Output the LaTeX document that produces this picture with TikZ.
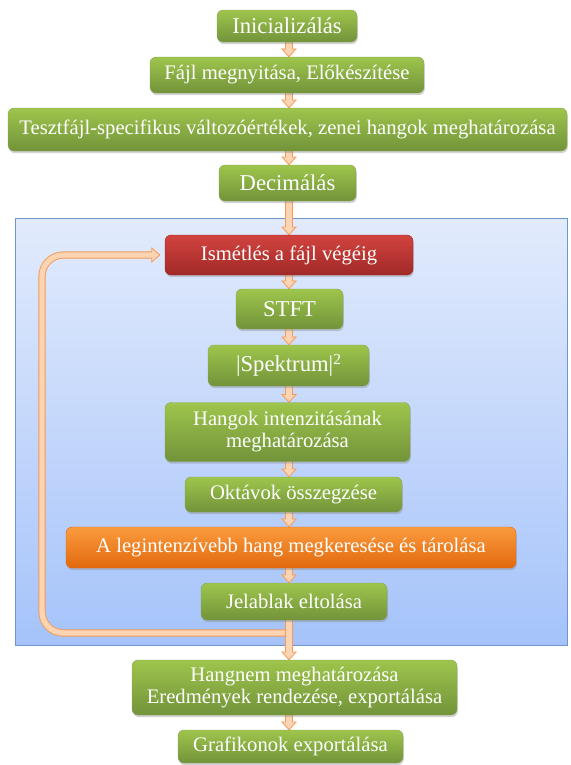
\documentclass[tikz,border=0pt]{standalone}
\usepackage{fontspec}
\setmainfont{Liberation Serif}
\usetikzlibrary{shadows,calc}

\definecolor{grtop}{HTML}{9EC54C}
\definecolor{grbot}{HTML}{72933A}
\definecolor{rdtop}{HTML}{D2433F}
\definecolor{rdbot}{HTML}{A02927}
\definecolor{ortop}{HTML}{FA9B3E}
\definecolor{orbot}{HTML}{E2690D}
\definecolor{bltop}{HTML}{E2EBFC}
\definecolor{blbot}{HTML}{A5C3FA}
\definecolor{blline}{HTML}{6F96CC}
\definecolor{arrfill}{HTML}{FBD4B4}
\definecolor{arrline}{HTML}{F79A55}

\pgfdeclarelayer{panel}
\pgfdeclarelayer{links}
\pgfsetlayers{panel,links,main}

\tikzset{
  box/.style={rounded corners=4.5pt, text=white, align=center, inner sep=0pt,
    top color=grtop, bottom color=grbot, draw=grbot!85!white, line width=0.3pt,
    drop shadow={opacity=0.35, shadow xshift=0.6pt, shadow yshift=-1.6pt}},
  redbox/.style={box, top color=rdtop, bottom color=rdbot, draw=rdbot},
  orangebox/.style={box, top color=ortop, bottom color=orbot, draw=orbot},
  big/.style={font=\fontsize{17pt}{20pt}\selectfont},
  small/.style={font=\fontsize{15.5pt}{16.5pt}\selectfont},
  panelbox/.style={inner sep=0pt, top color=bltop, bottom color=blbot,
    draw=blline, line width=0.6pt,
    drop shadow={opacity=0.3, shadow xshift=1pt, shadow yshift=-1pt}},
  arrowstyle/.style={fill=arrfill, draw=arrline, line width=0.6pt, line join=miter},
}

% block arrow straight down from the bottom of #1 to the top of #2, on the spine
\newcommand\flowarrow[2]{%
  \filldraw[arrowstyle] let \p1=(#1.south), \p2=(#2.north), \p3=(spine) in
    (\x3-2.6pt,\y1+2pt) -- (\x3-2.6pt,\y2+5.8pt) -- (\x3-5.2pt,\y2+5.8pt)
    -- (\x3,\y2) -- (\x3+5.2pt,\y2+5.8pt) -- (\x3+2.6pt,\y2+5.8pt)
    -- (\x3+2.6pt,\y1+2pt) -- cycle;}

\begin{document}
\begin{tikzpicture}[x=0.75pt,y=-0.75pt]
\useasboundingbox (0,0) rectangle (571,765);
\coordinate (spine) at (289,0);

% steps before the loop
\node[box,big, minimum width=105pt, minimum height=24pt] (init) at (287,26) {Inicializálás};
\node[box,small, minimum width=205.5pt, minimum height=27pt] (open) at (287,75) {Fájl megnyitása, Előkészítése};
\node[box,small, minimum width=419.25pt, minimum height=32.25pt] (vars) at (287.5,129.5) {Tesztfájl-specifikus változóértékek, zenei hangok meghatározása};
\node[box,big, minimum width=102.75pt, minimum height=27pt] (dec) at (287.5,183) {Decimálás};

% loop panel
\begin{pgfonlayer}{panel}
\node[panelbox, minimum width=414pt, minimum height=320.25pt] (loop) at (291,431.5) {};
\end{pgfonlayer}

% steps inside the loop
\node[redbox,small, minimum width=186pt, minimum height=30pt] (rep) at (289,255) {Ismétlés a fájl végéig};
\node[box,big, minimum width=80.25pt, minimum height=30pt] (stft) at (289.5,309) {STFT};
\node[box,big, minimum width=120.75pt, minimum height=30.75pt] (spec) at (288.5,365.5) {|Spektrum|\raisebox{0.72ex}{\fontsize{11.5pt}{12pt}\selectfont 2}};
\node[box,small, minimum width=183.75pt, minimum height=44.25pt] (int) at (287.5,432) {Hangok intenzitásának\\meghatározása};
\node[box,small, minimum width=162.75pt, minimum height=26.25pt] (oct) at (293.5,494.5) {Oktávok összegzése};
\node[orangebox,small, minimum width=337.5pt, minimum height=30.75pt] (max) at (291,547.5) {A legintenzívebb hang megkeresése és tárolása};
\node[box,small, minimum width=139.5pt, minimum height=27.75pt] (shift) at (294,601.5) {Jelablak eltolása};

% steps after the loop
\node[box,small, minimum width=243.75pt, minimum height=41.25pt] (key) at (294.5,687.5) {Hangnem meghatározása\\Eredmények rendezése, exportálása};
\node[box,small, minimum width=168.75pt, minimum height=24.75pt] (graph) at (290.5,746.5) {Grafikonok exportálása};

\begin{pgfonlayer}{links}
% feedback loop back to the repeat step
\coordinate (loopy) at (0,633);
\coordinate (loopx) at (42,0);
\coordinate (looptip) at ($(rep.west)+(-3.75pt,0)$);
\coordinate (headbase) at ($(looptip)+(-6pt,0)$);
\draw[arrline, line width=5.4pt, rounded corners=16pt]
  (spine |- loopy) -- (loopx |- loopy) -- (loopx |- looptip) -- (headbase);
\filldraw[arrowstyle] ($(headbase)+(0,5.2pt)$) -- (looptip) -- ($(headbase)+(0,-5.2pt)$) -- cycle;
\draw[arrfill, line width=4pt, rounded corners=16pt]
  (spine |- loopy) -- (loopx |- loopy) -- (loopx |- looptip) -- ($(headbase)+(1pt,0)$);

\flowarrow{init}{open}
\flowarrow{open}{vars}
\flowarrow{vars}{dec}
\flowarrow{dec}{rep}
\flowarrow{rep}{stft}
\flowarrow{stft}{spec}
\flowarrow{spec}{int}
\flowarrow{int}{oct}
\flowarrow{oct}{max}
\flowarrow{max}{shift}
\flowarrow{shift}{key}
\flowarrow{key}{graph}
\end{pgfonlayer}
\end{tikzpicture}
\end{document}
